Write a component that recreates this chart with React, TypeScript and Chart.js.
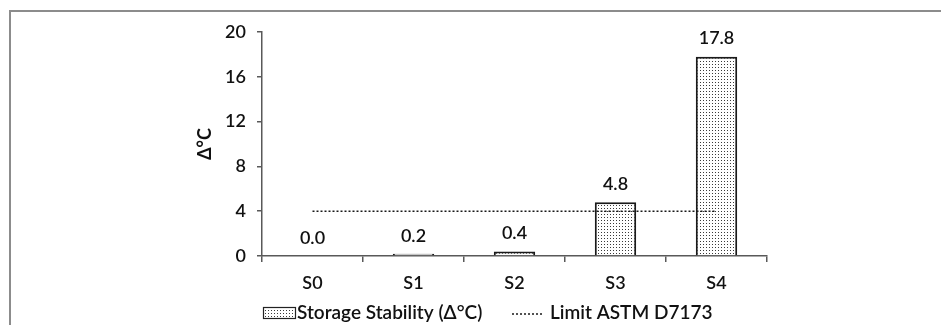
import React, { useEffect, useRef } from "react";
import { Chart, registerables } from "chart.js";

Chart.register(...registerables);

const categories = ["S0", "S1", "S2", "S3", "S4"];
const stabilityValues = [0.0, 0.2, 0.4, 4.8, 17.8];
const limitValues = [4, 4, 4, 4, 4];
const barLabel = "Storage Stability (Δ°C)";
const limitLabel = "Limit ASTM D7173";
const yTitle = "Δ°C";

const FONT = "Lato, 'Open Sans', sans-serif";
const TEXT = "#111111";
const SIZE = 18;
const LEGEND_SIZE = 19;
const WEIGHT = "600";

function makePattern(): CanvasPattern | string {
  const c = document.createElement("canvas");
  c.width = 3;
  c.height = 3;
  const g = c.getContext("2d");
  if (!g) return "#ddd";
  g.fillStyle = "#ffffff";
  g.fillRect(0, 0, 3, 3);
  g.fillStyle = "#3a3a3a";
  g.fillRect(1, 1, 1, 1);
  const p = g.createPattern(c, "repeat");
  return p || "#ddd";
}

export default function App() {
  const ref = useRef<HTMLCanvasElement | null>(null);

  useEffect(() => {
    const canvas = ref.current;
    if (!canvas) return;
    const pattern = makePattern();

    const framePlugin = {
      id: "frame",
      beforeDraw(chart: any) {
        const ctx = chart.ctx;
        ctx.save();
        ctx.fillStyle = "#ffffff";
        ctx.fillRect(0, 0, chart.width, chart.height);
        ctx.strokeStyle = "#8c8c8c";
        ctx.lineWidth = 2;
        ctx.beginPath();
        ctx.moveTo(10, chart.height + 5);
        ctx.lineTo(10, 11);
        ctx.lineTo(chart.width + 5, 11);
        ctx.stroke();
        ctx.restore();
      },
    };

    const labelPlugin = {
      id: "valueLabels",
      afterDatasetsDraw(chart: any) {
        const ctx = chart.ctx;
        const meta = chart.getDatasetMeta(0);
        const ds = chart.data.datasets[0];
        ctx.save();
        ctx.font = `${WEIGHT} ${SIZE}px ${FONT}`;
        ctx.fillStyle = TEXT;
        ctx.textAlign = "center";
        ctx.textBaseline = "middle";
        meta.data.forEach((el: any, i: number) => {
          const v = ds.data[i] as number;
          ctx.fillText(v.toFixed(1), el.x, el.y - 18);
        });
        ctx.restore();
      },
    };

    const legendPlugin = {
      id: "customLegend",
      afterDraw(chart: any) {
        const ctx = chart.ctx;
        const ds0 = chart.data.datasets[0];
        const ds1 = chart.data.datasets[1];
        const cy = 313;
        ctx.save();
        ctx.font = `${WEIGHT} ${LEGEND_SIZE}px ${FONT}`;
        ctx.textBaseline = "middle";
        ctx.textAlign = "left";
        // bar item
        let x = 263;
        ctx.fillStyle = ds0.backgroundColor;
        ctx.fillRect(x, cy - 6, 32, 12);
        ctx.strokeStyle = "#222";
        ctx.lineWidth = 1.2;
        ctx.strokeRect(x + 0.5, cy - 6 + 0.5, 32, 11);
        ctx.fillStyle = TEXT;
        ctx.fillText(ds0.label, x + 34, cy);
        // line item
        x = 512;
        ctx.strokeStyle = ds1.borderColor;
        ctx.lineWidth = ds1.borderWidth;
        ctx.setLineDash(ds1.borderDash);
        ctx.beginPath();
        ctx.moveTo(x, cy + 1);
        ctx.lineTo(x + 32, cy + 1);
        ctx.stroke();
        ctx.setLineDash([]);
        ctx.fillText(ds1.label, x + 38, cy);
        ctx.restore();
      },
    };

    const chart = new Chart(canvas, {
      type: "bar",
      data: {
        labels: categories,
        datasets: [
          {
            type: "bar",
            label: barLabel,
            data: stabilityValues,
            backgroundColor: pattern as any,
            borderColor: "#1a1a1a",
            borderWidth: 2,
            categoryPercentage: 1,
            barPercentage: 0.41,
            order: 1,
          },
          {
            type: "line",
            label: limitLabel,
            data: limitValues,
            borderColor: "#1a1a1a",
            borderWidth: 1.6,
            borderDash: [2, 2],
            pointRadius: 0,
            fill: false,
            order: 0,
          } as any,
        ],
      },
      options: {
        responsive: false,
        animation: false,
        layout: { padding: { left: 190, right: 174, top: 32, bottom: 29 } },
        plugins: {
          legend: { display: false },
          tooltip: { enabled: false },
        },
        scales: {
          x: {
            offset: true,
            grid: {
              offset: true,
              drawOnChartArea: false,
              drawTicks: true,
              tickLength: 6,
              color: "#595959",
              lineWidth: 1.5,
            },
            border: { color: "#595959", width: 1.5 },
            ticks: { color: TEXT, font: { family: FONT, size: SIZE, weight: WEIGHT }, padding: 10 },
            afterFit: (scale: any) => {
              scale.height = 40;
            },
          },
          y: {
            min: 0,
            max: 20,
            ticks: {
              stepSize: 4,
              color: TEXT,
              font: { family: FONT, size: SIZE, weight: WEIGHT },
              padding: 11,
            },
            grid: {
              drawOnChartArea: false,
              drawTicks: true,
              tickLength: 5,
              color: "#595959",
              lineWidth: 1.5,
            },
            border: { color: "#595959", width: 1.5 },
            title: {
              display: true,
              text: yTitle,
              color: TEXT,
              font: { family: FONT, size: SIZE, weight: "bold" },
              padding: { top: 4, bottom: 0 },
            },
            afterFit: (scale: any) => {
              scale.width = 72;
            },
          },
        },
      },
      plugins: [framePlugin, labelPlugin, legendPlugin],
    });

    return () => chart.destroy();
  }, []);

  return (
    <div style={{ position: "absolute", left: 0, top: 0, width: 941, height: 325 }}>
      <canvas ref={ref} width={941} height={325} style={{ display: "block" }} />
    </div>
  );
}
